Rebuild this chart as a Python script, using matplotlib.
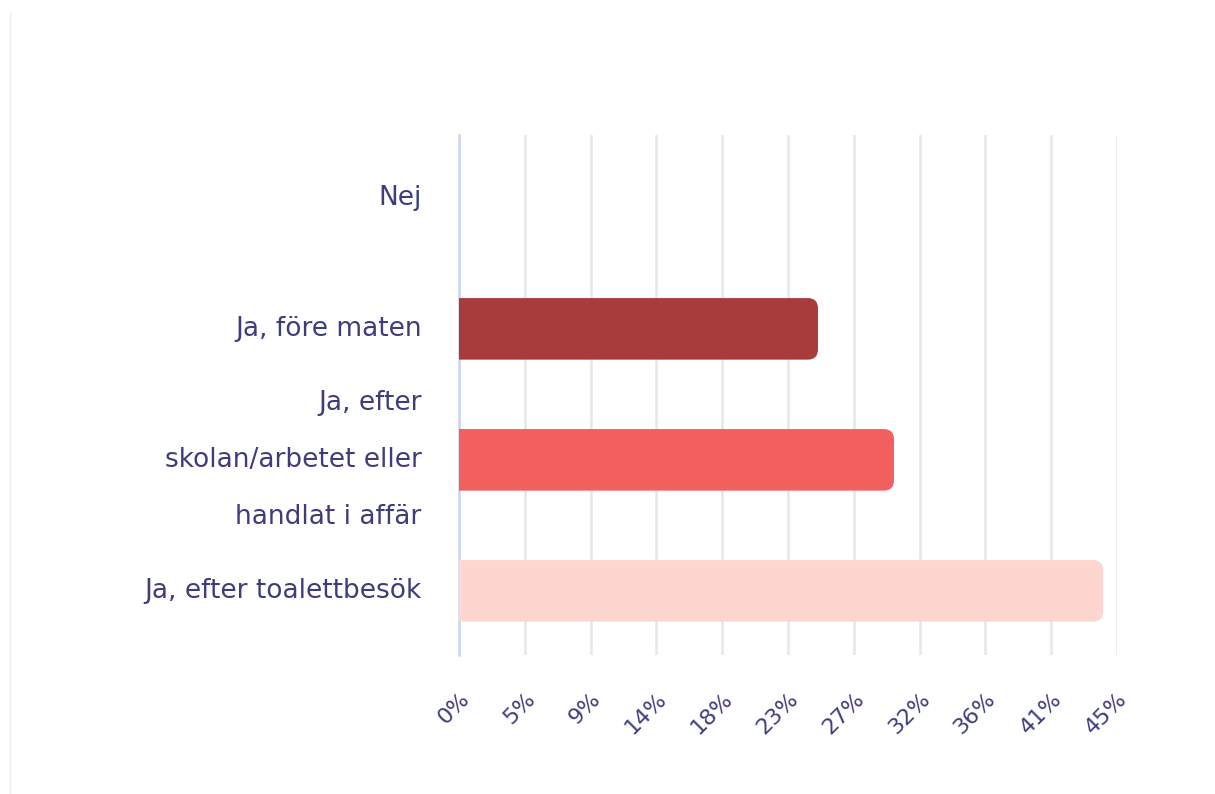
import matplotlib.pyplot as plt
from matplotlib.patches import FancyBboxPatch

categories = ['Nej', 'Ja, före maten',
              'Ja, efter\nskolan/arbetet eller\nhandlat i affär',
              'Ja, efter toalettbesök']
values = [0, 24.55, 29.75, 44.05]
colors = ['#A83C3C', '#A83C3C', '#F25F5F', '#FFD6CF']
xticks = [0, 4.5, 9, 13.5, 18, 22.5, 27, 31.5, 36, 40.5, 45]
xticklabels = ['0%', '5%', '9%', '14%', '18%', '23%', '27%', '32%', '36%', '41%', '45%']

text_color = '#3D3D7E'
plt.rcParams['font.family'] = ['DejaVu Sans']

fig = plt.figure(figsize=(12.15, 7.94), dpi=100)
ax = fig.add_axes([459 / 1215, 1 - 655 / 794, 658 / 1215, 520 / 794])

ax.set_xlim(0, 45)
ax.set_ylim(3.49, -0.48)

# rounded bars, left end hidden behind the axis
r_x = 0.7
r_y = 0.077
bar_h = 0.47
for i, v in enumerate(values):
    if v <= 0:
        continue
    p = FancyBboxPatch((-2, i - bar_h / 2), v + 2, bar_h,
                       boxstyle='round,pad=0,rounding_size=%f' % r_x,
                       mutation_aspect=r_y / r_x,
                       facecolor=colors[i], edgecolor='none', zorder=3)
    ax.add_patch(p)

ax.set_xticks(xticks)
ax.set_xticklabels(xticklabels, rotation=45, ha='right', rotation_mode='anchor',
                   color=text_color, fontsize=16)
ax.set_yticks(range(len(categories)))
ax.set_yticklabels(categories, color=text_color, fontsize=19, linespacing=2.55,
                   va='center')
ax.tick_params(axis='both', length=0)
ax.tick_params(axis='y', pad=27)
ax.tick_params(axis='x', pad=24)

ax.grid(axis='x', color='#E6E6E6', linewidth=1.8, zorder=0)
ax.set_axisbelow(True)
for s in ['top', 'right', 'bottom']:
    ax.spines[s].set_visible(False)
ax.spines['left'].set_color('#CDD5EC')
ax.spines['left'].set_linewidth(1.8)

# faint card border on the left
fig.add_artist(plt.Line2D([10 / 1215, 10 / 1215], [1 - 13 / 794, 0], color='#EEEEEE',
                          linewidth=1, transform=fig.transFigure))

fig.savefig('out.png', dpi=100, facecolor='white')
